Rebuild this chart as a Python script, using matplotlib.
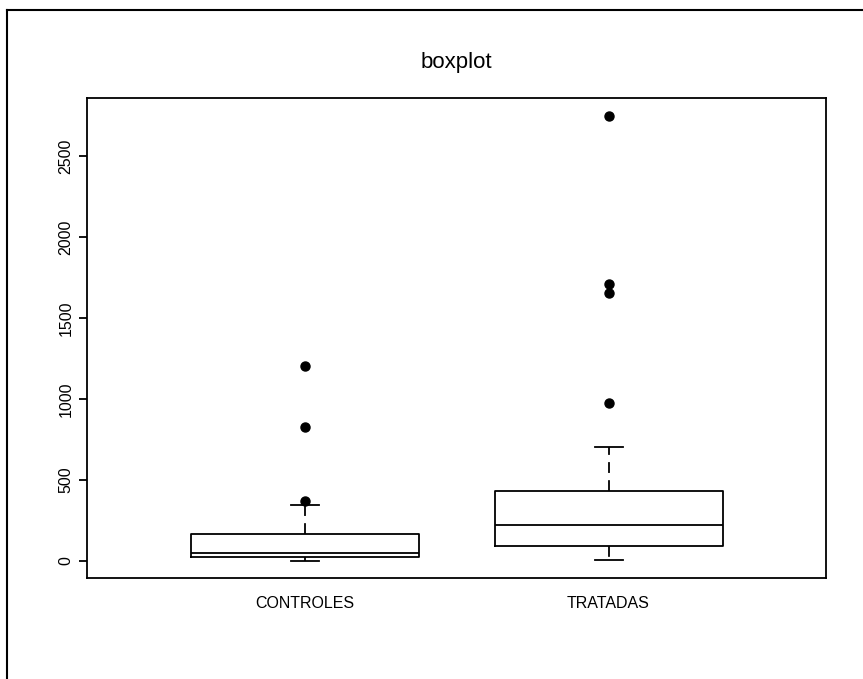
import matplotlib.pyplot as plt
from matplotlib.lines import Line2D

plt.rcParams['font.family'] = ['Liberation Sans', 'DejaVu Sans']

# Box statistics
groups = ['CONTROLES', 'TRATADAS']
whisker_low = [0, 4]
q1 = [21, 93]
medians = [46, 221]
q3 = [163, 431]
whisker_high = [346, 705]
outliers = [[371, 828, 1203], [976, 1656, 1708, 2747]]

stats = []
for i, name in enumerate(groups):
    stats.append({'label': name, 'whislo': whisker_low[i], 'q1': q1[i],
                  'med': medians[i], 'q3': q3[i], 'whishi': whisker_high[i],
                  'fliers': outliers[i]})

fig = plt.figure(figsize=(8.63, 6.79), dpi=100)
ax = fig.add_axes([0.1012, 0.1483, 0.8556, 0.7069])

lw = 1.3
ax.bxp(stats, positions=[1, 2], widths=0.75, capwidths=0.092,
       boxprops=dict(color='black', linewidth=lw),
       medianprops=dict(color='black', linewidth=lw),
       whiskerprops=dict(color='black', linewidth=lw, linestyle=(0, (6, 4))),
       capprops=dict(color='black', linewidth=lw),
       flierprops=dict(marker='o', markerfacecolor='black',
                       markeredgecolor='black', markersize=6.5))

ax.set_xlim(0.2855, 2.7145)
ax.set_ylim(-109, 2858)
ax.set_yticks([0, 500, 1000, 1500, 2000, 2500])
ax.tick_params(axis='y', length=6, width=lw, pad=4, labelsize=11.5,
               labelrotation=90)
for lab in ax.get_yticklabels():
    lab.set_verticalalignment('center')
ax.tick_params(axis='x', length=0, pad=12.5, labelsize=11.5)
for sp in ax.spines.values():
    sp.set_linewidth(lw)

ax.set_title('boxplot', fontsize=16, pad=22)

# outer frame lines (top and left) of the original device
fig.add_artist(Line2D([7 / 863, 1], [1 - 10 / 679, 1 - 10 / 679],
                      color='black', linewidth=1.5))
fig.add_artist(Line2D([7 / 863, 7 / 863], [0, 1 - 10 / 679],
                      color='black', linewidth=1.5))

fig.savefig('out.png', dpi=100)
